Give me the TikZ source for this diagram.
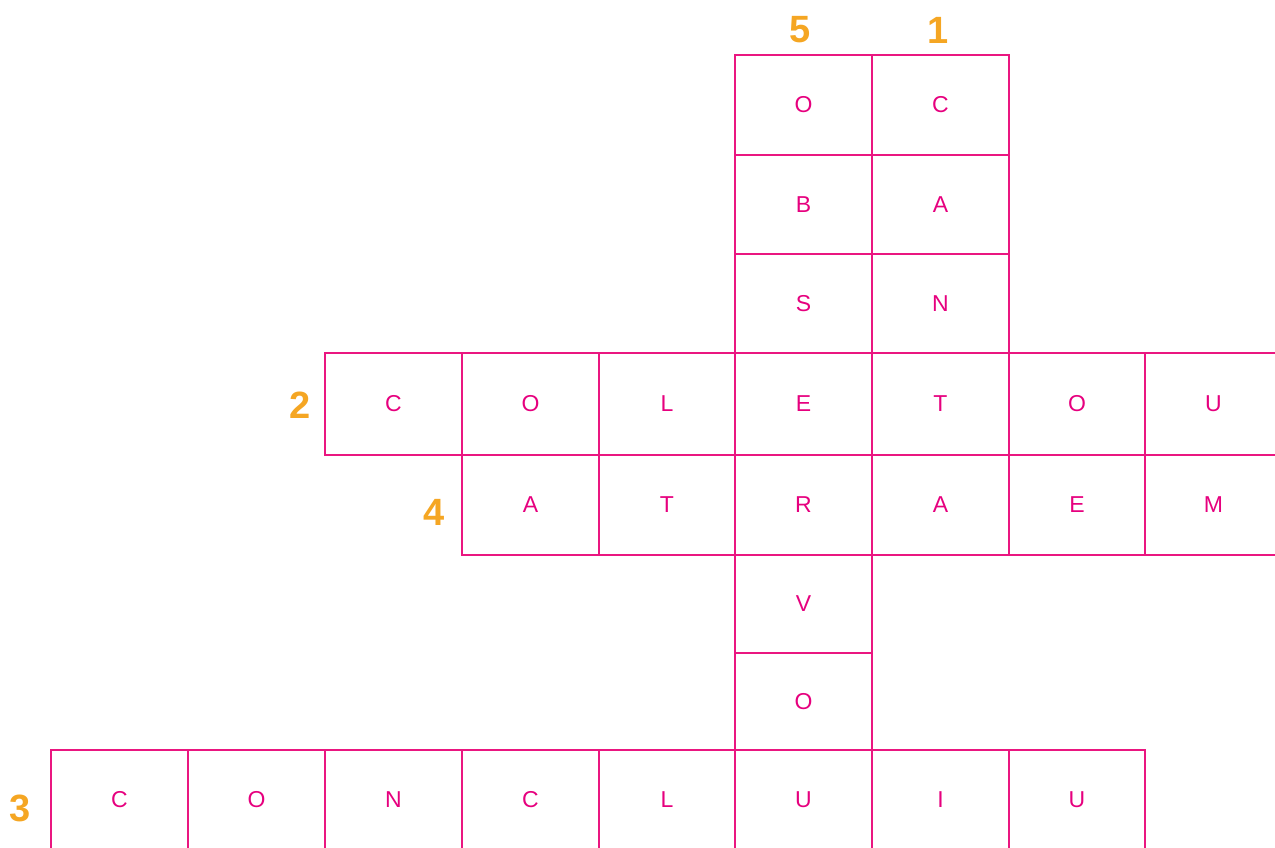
\documentclass[tikz,border=0pt]{standalone}
\usepackage{fontspec}
\setmainfont{Liberation Sans}
\definecolor{gridpink}{RGB}{234,22,128}
\definecolor{letterpink}{RGB}{230,0,126}
\definecolor{numorange}{RGB}{245,166,35}
\tikzset{
  cellbox/.style={draw=gridpink, line width=2pt, inner sep=0pt, rectangle,
    text=letterpink, font=\fontsize{23}{23}\selectfont},
  numlabel/.style={text=numorange, font=\fontsize{38}{38}\selectfont\bfseries, inner sep=0pt}
}
\newcommand\cell[6]{%
  \node[cellbox, minimum width={(#4-#2)*1pt}, minimum height={(#5-#3)*1pt}]
    (#1) at ({(#2+#4)/2},{(#3+#5)/2}) {#6};}
\begin{document}
\begin{tikzpicture}[x=1pt,y=-1pt]
\useasboundingbox (0,0) rectangle (1275,848);
% column 5 (vertical, OBSERVOU)
\cell{v5a}{735}{55}{872}{155}{O}
\cell{v5b}{735}{155}{872}{254}{B}
\cell{v5c}{735}{254}{872}{353}{S}
\cell{v5f}{735}{555}{872}{653}{V}
\cell{v5g}{735}{653}{872}{750}{O}
% column 1 (vertical, CANTA)
\cell{v1a}{872}{55}{1009}{155}{C}
\cell{v1b}{872}{155}{1009}{254}{A}
\cell{v1c}{872}{254}{1009}{353}{N}
% row 2 COLETOU
\cell{h2a}{325}{353}{462}{455}{C}
\cell{h2b}{462}{353}{599}{455}{O}
\cell{h2c}{599}{353}{735}{455}{L}
\cell{h2d}{735}{353}{872}{455}{E}
\cell{h2e}{872}{353}{1009}{455}{T}
\cell{h2f}{1009}{353}{1145}{455}{O}
\cell{h2g}{1145}{353}{1282}{455}{U}
% row 4 ATRAEM
\cell{h4a}{462}{455}{599}{555}{A}
\cell{h4b}{599}{455}{735}{555}{T}
\cell{h4c}{735}{455}{872}{555}{R}
\cell{h4d}{872}{455}{1009}{555}{A}
\cell{h4e}{1009}{455}{1145}{555}{E}
\cell{h4f}{1145}{455}{1282}{555}{M}
% row 3 CONCLUIU
\cell{h3a}{51}{750}{188}{850}{C}
\cell{h3b}{188}{750}{325}{850}{O}
\cell{h3c}{325}{750}{462}{850}{N}
\cell{h3d}{462}{750}{599}{850}{C}
\cell{h3e}{599}{750}{735}{850}{L}
\cell{h3f}{735}{750}{872}{850}{U}
\cell{h3g}{872}{750}{1009}{850}{I}
\cell{h3h}{1009}{750}{1145}{850}{U}
% numbers
\node[numlabel] (n5) at (800,30) {5};
\node[numlabel] (n1) at (938,30) {1};
\node[numlabel] (n2) at (300,405) {2};
\node[numlabel] (n4) at (434,512) {4};
\node[numlabel] (n3) at (20,808) {3};
\end{tikzpicture}
\end{document}
